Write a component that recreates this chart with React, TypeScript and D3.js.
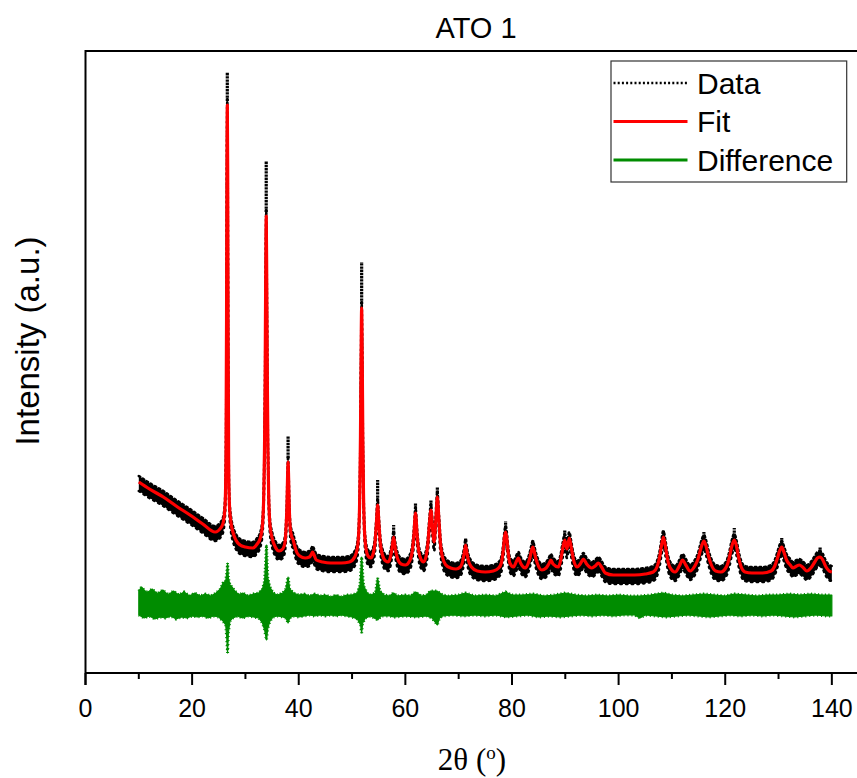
import React from 'react';
import * as d3 from 'd3';

// ---- data (intensity in arbitrary units) ----
const xTickValues = [0, 20, 40, 60, 80, 100, 120, 140];
const xMinorTicks = [10, 30, 50, 70, 90, 110, 130];

const fitPoints: [number, number][] = [
  [10, 191], [12, 184], [14.6, 176], [17, 167], [19.6, 158], [22, 149], [24.3, 141], [25.5, 146], [25.9, 152],
  [26.2, 170], [26.35, 215], [26.46, 353], [26.53, 503], [26.6, 568], [26.67, 503], [26.74, 353], [26.85, 215],
  [27.0, 168], [27.3, 150], [27.7, 140], [28.2, 133], [29, 128], [30, 126], [31.4, 125], [32.2, 129], [32.8, 135],
  [33.2, 148], [33.45, 181], [33.58, 225], [33.69, 291], [33.8, 391], [33.9, 457], [34.0, 391], [34.11, 291],
  [34.22, 225], [34.35, 181], [34.6, 148], [35.0, 135], [35.6, 126], [36.3, 122], [37.0, 124], [37.4, 130],
  [37.65, 148], [37.78, 166], [37.9, 195], [38.0, 211], [38.1, 195], [38.22, 166], [38.4, 145], [38.7, 136],
  [38.9, 134], [39.2, 128], [39.6, 121], [40.2, 117], [41.2, 115], [42.0, 116], [42.4, 119], [42.6, 121],
  [42.8, 119], [43.3, 113], [44.5, 111], [46, 110], [48, 110], [49.5, 111], [50.5, 116], [51.0, 125], [51.3, 146],
  [51.45, 179], [51.58, 237], [51.69, 314], [51.8, 365], [51.91, 314], [52.02, 237], [52.15, 179], [52.3, 146],
  [52.6, 125], [53.0, 117], [53.5, 115], [54.0, 120], [54.3, 130], [54.55, 148], [54.8, 168], [55.05, 148],
  [55.3, 130], [55.7, 118], [56.3, 112], [56.8, 111], [57.2, 116], [57.5, 125], [57.8, 136], [58.1, 125],
  [58.5, 115], [59.2, 109], [60.0, 108], [60.8, 112], [61.3, 122], [61.6, 138], [61.9, 160], [62.2, 138],
  [62.5, 122], [63.0, 113], [63.4, 111], [63.9, 117], [64.2, 128], [64.5, 148], [64.8, 163], [65.1, 145],
  [65.4, 131], [65.7, 152], [66.0, 176], [66.3, 152], [66.6, 128], [67.0, 115], [67.6, 108], [68.5, 105],
  [69.5, 104], [70.3, 106], [70.8, 113], [71.05, 120], [71.3, 128], [71.55, 120], [71.8, 113], [72.4, 106],
  [73.5, 102], [75, 101], [76.5, 102], [77.5, 105], [78.0, 110], [78.35, 122], [78.6, 136], [78.8, 141],
  [79.0, 136], [79.25, 122], [79.6, 110], [80.3, 106], [80.7, 110], [81.2, 115], [81.6, 110], [82.5, 105],
  [83.0, 109], [83.4, 116], [83.65, 122], [83.9, 126], [84.15, 122], [84.4, 116], [84.8, 109], [85.6, 103],
  [86.4, 105], [86.9, 109], [87.3, 113], [87.7, 109], [88.7, 106], [89.1, 112], [89.5, 124], [89.9, 133],
  [90.3, 124], [90.75, 135], [91.1, 126], [91.5, 114], [92.2, 106], [92.8, 109], [93.4, 114], [94.0, 109],
  [95.0, 105], [95.6, 107], [96.2, 110], [96.8, 106], [97.5, 100], [99, 98], [101, 98], [103, 98], [105, 99],
  [106.5, 101], [107.2, 106], [107.7, 116], [108.0, 126], [108.4, 136], [108.8, 126], [109.1, 116], [109.6, 106],
  [110.6, 101], [111.4, 107], [112.0, 113], [112.6, 108], [113.4, 102], [114.3, 107], [114.9, 114], [115.4, 124],
  [115.7, 129], [116.0, 132], [116.4, 127], [116.8, 118], [117.4, 108], [118.2, 102], [119.2, 101], [120.3, 107],
  [120.8, 116], [121.2, 126], [121.7, 133], [122.1, 127], [122.5, 116], [123.0, 106], [123.7, 101], [125, 100],
  [127, 100], [128.6, 102], [129.3, 107], [129.8, 115], [130.2, 122], [130.6, 126], [131.0, 121], [131.5, 113],
  [132.2, 108], [132.7, 105], [133.4, 107], [133.9, 108], [134.5, 106], [135.3, 102], [136.2, 106], [136.8, 111],
  [137.3, 115], [137.8, 116], [138.3, 113], [138.9, 106], [139.5, 102], [140, 101],
];

// observed data maxima above the fitted peak tops
const dataPeakTops: [number, number][] = [
  [26.6, 601], [33.9, 512], [38.0, 237], [51.8, 411], [54.8, 193], [57.8, 148], [61.9, 170], [64.8, 173],
  [66.0, 186], [71.3, 135], [78.8, 152], [83.9, 133], [89.9, 143], [108.4, 143], [116.0, 141], [121.7, 145],
  [130.6, 135], [137.8, 126],
];

// spread of the observed data around the fit (above / below)
const dataSpreadAbove = 6;
const dataSpreadBelow = 9;

const diffUpper: [number, number][] = [
  [10, 82], [10.5, 86], [11.5, 80], [12.5, 84], [13.5, 79], [14.5, 83], [15.5, 78], [16.5, 82], [17.5, 78],
  [18.5, 81], [19.5, 77], [20.5, 80], [21.5, 77], [22.5, 79], [23.5, 77], [24.5, 80], [25.3, 84], [25.8, 90],
  [26.3, 92], [26.5, 100], [26.65, 110], [26.8, 95], [27.1, 88], [27.5, 86], [28, 82], [28.8, 78], [29.5, 80],
  [30.5, 77], [31.5, 79], [32.5, 80], [33.2, 84], [33.6, 92], [33.95, 128], [34.2, 95], [34.6, 86], [35.2, 80],
  [36, 78], [37, 80], [37.6, 84], [38.0, 96], [38.3, 84], [39, 80], [40, 78], [41, 79], [42, 77], [43, 79],
  [44, 77], [45, 78], [46, 76], [47, 78], [48, 76], [49, 78], [50, 78], [51, 80], [51.5, 88], [51.8, 116],
  [52.1, 90], [52.3, 86], [52.8, 80], [53.5, 78], [54.4, 80], [54.8, 95], [55.2, 82], [56, 78], [57, 77],
  [57.8, 80], [58.5, 77], [60, 78], [61, 77], [61.9, 81], [63, 77], [64, 78], [64.7, 82], [65.9, 82], [67, 78],
  [68, 77], [70, 78], [71.3, 80], [73, 77], [75, 78], [77, 77], [78.8, 81], [80, 78], [82, 78], [84, 79],
  [86, 77], [88, 78], [90, 80], [92, 78], [94, 77], [96, 78], [98, 77], [100, 78], [102, 77], [104, 77],
  [106, 78], [108.4, 80], [110, 78], [112, 77], [114, 78], [116, 79], [118, 78], [120, 77], [121.7, 79],
  [124, 78], [126, 77], [128, 78], [130, 78], [132, 79], [134, 78], [136, 79], [138, 78], [140, 78],
];

const diffLower: [number, number][] = [
  [10, 58], [11, 55], [12, 57], [13, 54], [14, 56], [15, 55], [16, 57], [17, 54], [18, 56], [19, 55], [20, 57],
  [21, 56], [22, 57], [23, 55], [24, 57], [25, 56], [25.8, 52], [26.3, 48], [26.5, 35], [26.65, 20], [26.8, 40],
  [27.1, 52], [27.6, 55], [28.5, 57], [29.5, 55], [30.5, 57], [31.5, 56], [32.5, 55], [33.2, 50], [33.6, 43],
  [33.95, 33], [34.2, 45], [34.6, 52], [35.2, 56], [36, 57], [37, 56], [37.6, 55], [38.0, 50], [38.3, 55],
  [39, 57], [40, 56], [41, 57], [42, 58], [43, 57], [44, 58], [45, 57], [46, 58], [47, 57], [48, 58], [49, 57],
  [50, 56], [51, 54], [51.6, 48], [51.8, 40], [52.0, 50], [52.5, 55], [53.5, 57], [54.8, 53], [55.5, 57],
  [57, 57], [58, 56], [60, 57], [62, 56], [64, 57], [65, 55], [66.0, 48], [66.4, 55], [67, 57], [69, 58],
  [71, 57], [73, 58], [75, 57], [77, 58], [79, 56], [81, 57], [83, 58], [85, 56], [87, 57], [89, 56], [91, 57],
  [93, 58], [95, 57], [97, 58], [99, 57], [101, 58], [103, 58], [104, 55], [105, 58], [107, 57], [109, 56],
  [111, 57], [113, 58], [115, 57], [117, 56], [119, 57], [121, 58], [123, 57], [125, 58], [127, 57], [129, 58],
  [131, 57], [133, 56], [135, 57], [137, 58], [139, 57], [140, 57],
];

const legendItems = [
  { label: 'Data', color: '#000000', dash: '2 2.2' },
  { label: 'Fit', color: '#ff0000', dash: '' },
  { label: 'Difference', color: '#008c00', dash: '' },
];

export default function App() {
  const x = d3.scaleLinear().domain([0, 145]).range([85.5, 858.5]);
  const y = d3.scaleLinear().domain([0, 622]).range([673, 51]);

  const fitLine = d3.line<[number, number]>().x(d => x(d[0])).y(d => y(d[1])).curve(d3.curveMonotoneX);
  const dataBand = d3
    .area<[number, number]>()
    .x(d => x(d[0]))
    .y0(d => y(d[1] - dataSpreadBelow))
    .y1(d => y(d[1] + dataSpreadAbove))
    .curve(d3.curveMonotoneX);
  const dataUpperEdge = d3
    .line<[number, number]>()
    .x(d => x(d[0]))
    .y(d => y(d[1] + dataSpreadAbove))
    .curve(d3.curveMonotoneX);
  const dataLowerEdge = d3
    .line<[number, number]>()
    .x(d => x(d[0]))
    .y(d => y(d[1] - dataSpreadBelow))
    .curve(d3.curveMonotoneX);

  const edgeLine = d3.line<[number, number]>().x(d => x(d[0])).y(d => y(d[1]));
  const diffArea = d3
    .area<[number, number, number]>()
    .x(d => x(d[0]))
    .y0(d => y(d[2]))
    .y1(d => y(d[1]));

  // merge envelopes on a common x grid (x values of both arrays)
  const xsAll = Array.from(new Set([...diffUpper.map(d => d[0]), ...diffLower.map(d => d[0])])).sort((a, b) => a - b);
  const interp = (arr: [number, number][], xv: number) => {
    const xs = arr.map(d => d[0]);
    const i = d3.bisectLeft(xs, xv);
    if (i <= 0) return arr[0][1];
    if (i >= arr.length) return arr[arr.length - 1][1];
    if (xs[i] === xv) return arr[i][1];
    const [x0, y0] = arr[i - 1];
    const [x1, y1] = arr[i];
    return y0 + ((y1 - y0) * (xv - x0)) / (x1 - x0);
  };
  const diffRows: [number, number, number][] = xsAll.map(xv => [xv, interp(diffUpper, xv), interp(diffLower, xv)]);

  const fitMap = new Map(fitPoints.map(d => [d[0], d[1]]));

  const axisY = 673;
  const sans = 'Liberation Sans, Arial, sans-serif';
  const green = '#008c00';

  return (
    <svg width={857} height={778} style={{ position: 'absolute', left: 0, top: 0, background: '#fff' }}>
      <rect x={0} y={0} width={857} height={778} fill="#fff" />
      {/* data band */}
      <path d={dataBand(fitPoints) || ''} fill="#000" />
      <path d={dataUpperEdge(fitPoints) || ''} fill="none" stroke="#000" strokeWidth={2.6} strokeDasharray="1.6 3.1" strokeLinecap="round" />
      <path d={dataLowerEdge(fitPoints) || ''} fill="none" stroke="#000" strokeWidth={2.6} strokeDasharray="1.4 4.3" strokeLinecap="round" />
      {/* data maxima */}
      {dataPeakTops.map(([px, top]) => (
        <line
          key={px}
          x1={x(px)}
          x2={x(px)}
          y1={y((fitMap.get(px) ?? top) + dataSpreadAbove - 2)}
          y2={y(top)}
          stroke="#000"
          strokeWidth={3.2}
          strokeDasharray="2.4 0.8"
        />
      ))}
      {/* difference */}
      <path d={diffArea(diffRows) || ''} fill={green} stroke={green} strokeWidth={1.2} strokeLinejoin="round" />
      <path d={edgeLine(diffUpper) || ''} fill="none" stroke={green} strokeWidth={3} strokeDasharray="1.2 2.3" />
      <path d={edgeLine(diffLower) || ''} fill="none" stroke={green} strokeWidth={3} strokeDasharray="1.1 2.9" />
      {/* fit */}
      <path d={fitLine(fitPoints) || ''} fill="none" stroke="#ff0000" strokeWidth={3.2} strokeLinejoin="round" />

      {/* frame */}
      <line x1={x(0)} x2={857} y1={51} y2={51} stroke="#000" strokeWidth={2} />
      <line x1={x(0)} x2={x(0)} y1={50} y2={axisY + 12} stroke="#000" strokeWidth={2} />
      <line x1={x(0)} x2={857} y1={axisY} y2={axisY} stroke="#000" strokeWidth={2} />
      {xTickValues.map(t => (
        <g key={t}>
          <line x1={x(t)} x2={x(t)} y1={axisY} y2={axisY + 12} stroke="#000" strokeWidth={2} />
          <text x={x(t)} y={716.5} textAnchor="middle" fontFamily={sans} fontSize={25} fill="#000">
            {t}
          </text>
        </g>
      ))}
      {xMinorTicks.map(t => (
        <line key={t} x1={x(t)} x2={x(t)} y1={axisY} y2={axisY + 6} stroke="#000" strokeWidth={2} />
      ))}

      {/* title & labels */}
      <text x={476} y={38} textAnchor="middle" fontFamily={sans} fontSize={29} fill="#000">
        ATO 1
      </text>
      <text
        transform="translate(39,341) rotate(-90)"
        textAnchor="middle"
        fontFamily={sans}
        fontSize={33}
        fill="#000"
      >
        Intensity (a.u.)
      </text>
      <text x={472} y={770} textAnchor="middle" fontFamily="Liberation Serif, Times New Roman, serif" fontSize={31} fill="#000">
        2θ (<tspan fontSize={19} dy={-11}>o</tspan>
        <tspan dy={11}>)</tspan>
      </text>

      {/* legend */}
      <rect x={611} y={61} width={235.7} height={121} fill="#fff" stroke="#333" strokeWidth={1.2} />
      {legendItems.map((it, i) => {
        const ly = 83 + i * 38.5;
        return (
          <g key={it.label}>
            <line
              x1={613.5}
              x2={687.5}
              y1={ly}
              y2={ly}
              stroke={it.color}
              strokeWidth={it.dash ? 2.4 : 3}
              strokeDasharray={it.dash || undefined}
            />
            <text x={697} y={ly + 10.5} fontFamily={sans} fontSize={30} fill="#000">
              {it.label}
            </text>
          </g>
        );
      })}
    </svg>
  );
}
